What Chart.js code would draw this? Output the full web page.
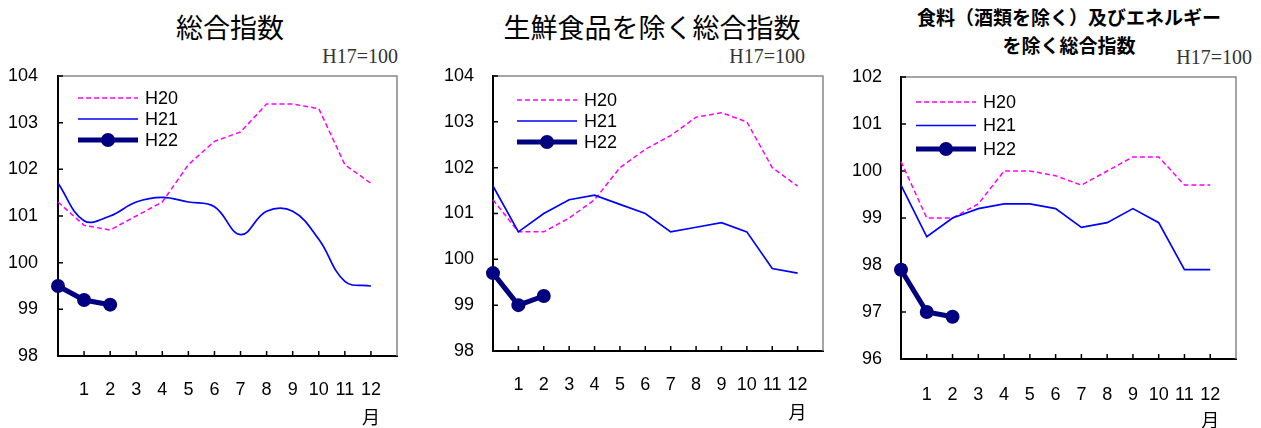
<!DOCTYPE html>
<html>
<head>
<meta charset="utf-8">
<script src="https://cdn.jsdelivr.net/npm/chart.js@4/dist/chart.umd.min.js"></script>
<style>
  body { margin: 0; width: 1261px; height: 428px; background: #fff; position: relative; overflow: hidden; font-family: "Noto Sans CJK JP", sans-serif; }
  canvas { position: absolute; top: 0; }
  .title { position: absolute; text-align: center; color: #000; white-space: nowrap; }
  .base { position: absolute; font-family: "Liberation Serif", serif; font-size: 20px; line-height: 20px; color: #333; text-align: right; }
</style>
</head>
<body>
<div class="title" style="left:80px;width:300px;top:10px;font-size:27px;line-height:34px;">総合指数</div>
<div class="title" style="left:452px;width:400px;top:10px;font-size:27px;line-height:34px;">生鮮食品を除く総合指数</div>
<div class="title" style="left:869px;width:400px;top:3px;font-size:19px;line-height:28px;font-weight:bold;">食料（酒類を除く）及びエネルギー<br>を除く総合指数</div>
<div class="base" style="left:298px;width:100px;top:46px;">H17=100</div>
<div class="base" style="left:705px;width:100px;top:46px;">H17=100</div>
<div class="base" style="left:1152px;width:100px;top:47px;">H17=100</div>

<canvas id="c1" width="420" height="428" style="left:0px"></canvas>
<canvas id="c2" width="420" height="428" style="left:430px"></canvas>
<canvas id="c3" width="421" height="428" style="left:840px"></canvas>

<script>
// x positions: 0 = previous December, 1..12 = months, 13 = right edge
const months = ["", "1", "2", "3", "4", "5", "6", "7", "8", "9", "10", "11", "12", ""];
const seriesNames = ["H20", "H21", "H22"];
const unitLabel = "月";

// 総合指数
const totalH20 = [101.3, 100.8, 100.7, 101.0, 101.3, 102.1, 102.6, 102.8, 103.4, 103.4, 103.3, 102.1, 101.7];
const totalH21 = [101.7, 100.9, 101.0, 101.3, 101.4, 101.3, 101.2, 100.6, 101.1, 101.1, 100.5, 99.6, 99.5];
const totalH22 = [99.5, 99.2, 99.1];
const totalTicks = [98, 99, 100, 101, 102, 103, 104];

// 生鮮食品を除く総合指数
const coreH20 = [101.3, 100.6, 100.6, 100.9, 101.3, 102.0, 102.4, 102.7, 103.1, 103.2, 103.0, 102.0, 101.6];
const coreH21 = [101.6, 100.6, 101.0, 101.3, 101.4, 101.2, 101.0, 100.6, 100.7, 100.8, 100.6, 99.8, 99.7];
const coreH22 = [99.7, 99.0, 99.2];
const coreTicks = [98, 99, 100, 101, 102, 103, 104];

// 食料（酒類を除く）及びエネルギーを除く総合指数
const coreCoreH20 = [100.2, 99.0, 99.0, 99.3, 100.0, 100.0, 99.9, 99.7, 100.0, 100.3, 100.3, 99.7, 99.7];
const coreCoreH21 = [99.7, 98.6, 99.0, 99.2, 99.3, 99.3, 99.2, 98.8, 98.9, 99.2, 98.9, 97.9, 97.9];
const coreCoreH22 = [97.9, 97.0, 96.9];
const coreCoreTicks = [96, 97, 98, 99, 100, 101, 102];

const panels = [
  { id: "c1", left: 0, width: 420, plot: [58, 400, 76, 356], yPad: 20, xPad: 23, unitY: 417,
    legend: { dx: 20, dy: 22, gap: 21 }, smooth: true,
    ticks: totalTicks, h20: totalH20, h21: totalH21, h22: totalH22 },
  { id: "c2", left: 430, width: 420, plot: [493, 823, 76, 351], yPad: 19, xPad: 23, unitY: 412,
    legend: { dx: 24, dy: 24, gap: 21 }, smooth: false,
    ticks: coreTicks, h20: coreH20, h21: coreH21, h22: coreH22 },
  { id: "c3", left: 840, width: 421, plot: [901, 1252, 77, 359], yPad: 19, xPad: 25, unitY: 420,
    legend: { dx: 15, dy: 25, gap: 23.5 }, smooth: false,
    ticks: coreCoreTicks, h20: coreCoreH20, h21: coreCoreH21, h22: coreCoreH22 }
];

const frame = {
  id: "frame",
  beforeDatasetsDraw(chart) {
    const { ctx, chartArea: a, scales: { x, y } } = chart;
    ctx.save();
    ctx.strokeStyle = "#888";
    ctx.lineWidth = 1.5;
    ctx.beginPath();
    ctx.moveTo(a.left, a.top);
    ctx.lineTo(a.right, a.top);
    ctx.lineTo(a.right, a.bottom);
    ctx.stroke();
    // inside tick marks
    ctx.strokeStyle = "#000";
    ctx.lineWidth = 1.5;
    ctx.beginPath();
    for (let i = 1; i < months.length - 1; i++) {
      const px = x.getPixelForValue(i);
      ctx.moveTo(px, a.bottom);
      ctx.lineTo(px, a.bottom - 5);
    }
    y.ticks.forEach(t => {
      const py = y.getPixelForValue(t.value);
      ctx.moveTo(a.left, py);
      ctx.lineTo(a.left + 5, py);
    });
    ctx.stroke();
    ctx.restore();
  },
  afterDraw(chart, args, opts) {
    const { ctx, chartArea: a, scales: { x } } = chart;
    ctx.save();
    // unit under the last month
    ctx.fillStyle = "#000";
    ctx.font = "18px 'Noto Sans CJK JP'";
    ctx.textAlign = "center";
    ctx.textBaseline = "middle";
    ctx.fillText(unitLabel, x.getPixelForValue(12), opts.unitY);
    // legend inside the plot
    const lg = opts.legend;
    const x0 = a.left + lg.dx, x1 = x0 + 60;
    ctx.font = "18px 'Liberation Sans'";
    ctx.textAlign = "left";
    seriesNames.forEach((name, i) => {
      const ds = chart.data.datasets.find(d => d.label === name);
      const ly = a.top + lg.dy + i * lg.gap;
      ctx.strokeStyle = ds.borderColor;
      ctx.lineWidth = ds.borderWidth;
      ctx.setLineDash(ds.borderDash || []);
      ctx.beginPath();
      ctx.moveTo(x0, ly);
      ctx.lineTo(x1, ly);
      ctx.stroke();
      ctx.setLineDash([]);
      if (ds.pointRadius > 0) {
        ctx.fillStyle = ds.pointBackgroundColor;
        ctx.beginPath();
        ctx.arc((x0 + x1) / 2, ly, ds.pointRadius, 0, Math.PI * 2);
        ctx.fill();
      }
      ctx.fillStyle = "#000";
      ctx.fillText(name, x1 + 7, ly + 1);
    });
    ctx.restore();
  }
};

panels.forEach(p => {
  const [L, R, T, B] = p.plot;
  new Chart(document.getElementById(p.id), {
    type: "line",
    data: {
      labels: months,
      datasets: [
        { label: "H20", data: p.h20, borderColor: "#FF00FF", borderWidth: 1.5, borderDash: [5, 3],
          pointRadius: 0, order: 2 },
        { label: "H21", data: p.h21, borderColor: "#0000FF", borderWidth: 1.7,
          tension: p.smooth ? 0.4 : 0, pointRadius: 0, order: 1 },
        { label: "H22", data: p.h22, borderColor: "#000080", borderWidth: 5,
          pointRadius: 7, pointBackgroundColor: "#000080", pointBorderWidth: 0, order: 0 }
      ]
    },
    options: {
      responsive: false,
      animation: false,
      events: [],
      clip: false,
      layout: { padding: { left: 0, top: T, right: p.left + p.width - R, bottom: 0 } },
      scales: {
        x: {
          type: "category",
          offset: false,
          grid: { drawOnChartArea: false, drawTicks: false },
          border: { color: "#000", width: 2 },
          ticks: { autoSkip: false, maxRotation: 0, padding: p.xPad, color: "#000",
                   font: { family: "Liberation Sans", size: 18 } },
          afterFit: s => { s.height = 428 - B; }
        },
        y: {
          min: p.ticks[0],
          max: p.ticks[p.ticks.length - 1],
          grid: { drawOnChartArea: false, drawTicks: false },
          border: { color: "#000", width: 2 },
          ticks: { stepSize: 1, padding: p.yPad, color: "#000",
                   font: { family: "Liberation Sans", size: 18 } },
          afterFit: s => { s.width = L - p.left; }
        }
      },
      plugins: {
        legend: { display: false },
        tooltip: { enabled: false },
        frame: { legend: p.legend, unitY: p.unitY }
      }
    },
    plugins: [frame]
  });
});
</script>
</body>
</html>
